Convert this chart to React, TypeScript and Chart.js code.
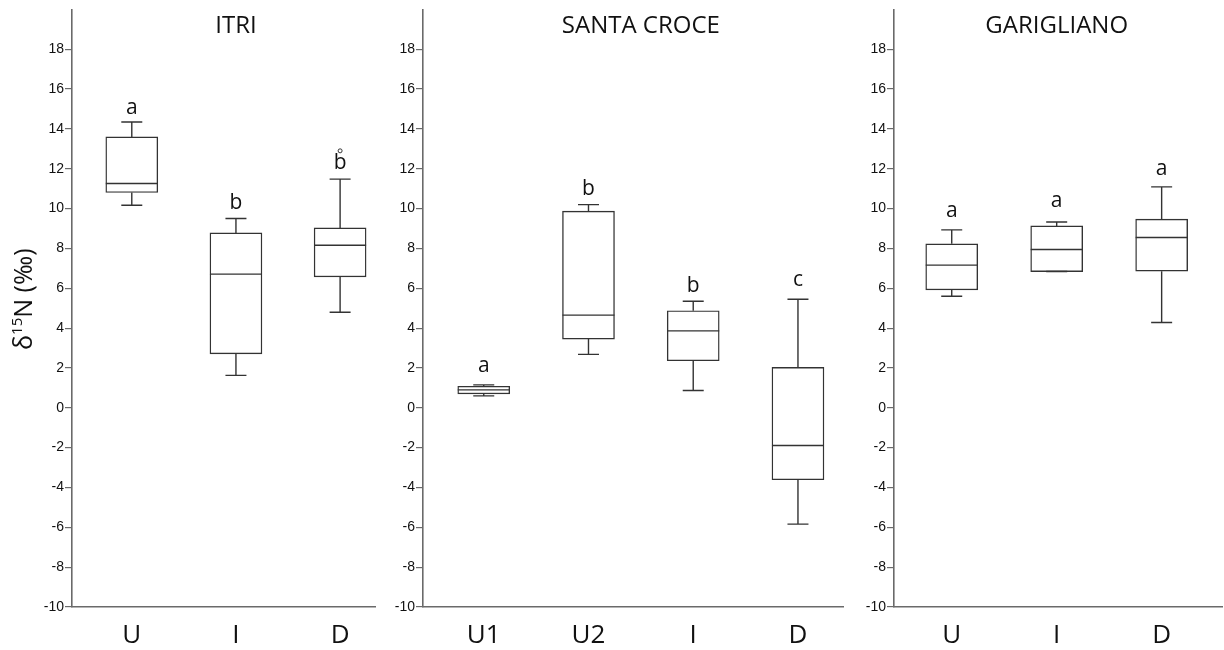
import { useEffect, useRef } from "react";
import { Chart, registerables } from "chart.js";

Chart.register(...registerables);

// ---- data (δ15N, ‰) ----
const yTickValues = [-10, -8, -6, -4, -2, 0, 2, 4, 6, 8, 10, 12, 14, 16, 18];

const itriGroups = ["U", "I", "D"];
const itriMin = [10.17, 1.63, 4.8];
const itriQ1 = [10.81, 2.71, 6.57];
const itriMedian = [11.26, 6.71, 8.16];
const itriQ3 = [13.6, 8.78, 9.03];
const itriMax = [14.35, 9.5, 11.48];
const itriLetters = ["a", "b", "b"];
const itriLetterY = [14.77, 10.0, 12.01];
const itriOutlierGroup = [3];
const itriOutlierValue = [12.9];

const santaGroups = ["U1", "U2", "I", "D"];
const santaMin = [0.6, 2.68, 0.87, -5.84];
const santaQ1 = [0.7, 3.45, 2.36, -3.61];
const santaMedian = [0.9, 4.65, 3.86, -1.89];
const santaQ3 = [1.08, 9.87, 4.87, 2.03];
const santaMax = [1.15, 10.2, 5.35, 5.45];
const santaLetters = ["a", "b", "b", "c"];
const santaLetterY = [1.78, 10.67, 5.79, 6.12];

const garigGroups = ["U", "I", "D"];
const garigMin = [5.6, 6.84, 4.28];
const garigQ1 = [5.92, 6.84, 6.86];
const garigMedian = [7.16, 7.95, 8.55];
const garigQ3 = [8.23, 9.13, 9.47];
const garigMax = [8.93, 9.33, 11.09];
const garigLetters = ["a", "a", "a"];
const garigLetterY = [9.58, 10.06, 11.68];

// ---- styling ----
const BOX_WIDTH = 52;
const CAP_WIDTH = 21;
const LINE_COLOR = "#333333";
const AXIS_COLOR = "#6a6a6a";
const TEXT_COLOR = "#111111";
const HUMANIST = "'Open Sans', 'Noto Sans', sans-serif";
const TICK_FONT = "'Liberation Sans', Arial, sans-serif";

type PanelData = {
  title: string;
  groups: string[];
  min: number[];
  q1: number[];
  median: number[];
  q3: number[];
  max: number[];
  letters: string[];
  letterY: number[];
  outlierGroup: number[];
  outlierValue: number[];
  showYTitle: boolean;
  // layout
  left: number;
  width: number;
  yAxisWidth: number;
  padRight: number;
  xMin: number;
  xMax: number;
};

const panels: PanelData[] = [
  {
    title: "ITRI",
    groups: itriGroups,
    min: itriMin,
    q1: itriQ1,
    median: itriMedian,
    q3: itriQ3,
    max: itriMax,
    letters: itriLetters,
    letterY: itriLetterY,
    outlierGroup: itriOutlierGroup,
    outlierValue: itriOutlierValue,
    showYTitle: true,
    left: 0,
    width: 380,
    yAxisWidth: 72,
    padRight: 4,
    xMin: 0.426,
    xMax: 3.335,
  },
  {
    title: "SANTA CROCE",
    groups: santaGroups,
    min: santaMin,
    q1: santaQ1,
    median: santaMedian,
    q3: santaQ3,
    max: santaMax,
    letters: santaLetters,
    letterY: santaLetterY,
    outlierGroup: [],
    outlierValue: [],
    showYTitle: false,
    left: 380,
    width: 470,
    yAxisWidth: 43,
    padRight: 7,
    xMin: 0.42,
    xMax: 4.43,
  },
  {
    title: "GARIGLIANO",
    groups: garigGroups,
    min: garigMin,
    q1: garigQ1,
    median: garigMedian,
    q3: garigQ3,
    max: garigMax,
    letters: garigLetters,
    letterY: garigLetterY,
    outlierGroup: [],
    outlierValue: [],
    showYTitle: false,
    left: 850,
    width: 374,
    yAxisWidth: 44,
    padRight: 2,
    xMin: 0.45,
    xMax: 3.575,
  },
];

function makeBoxPlugin(p: PanelData) {
  return {
    id: "boxExtras",
    afterDatasetsDraw(chart: any) {
      const { ctx, scales, chartArea } = chart;
      const xs = scales.x;
      const ys = scales.y;
      ctx.save();
      ctx.strokeStyle = LINE_COLOR;
      ctx.lineWidth = 1.4;
      p.groups.forEach((_, i) => {
        const cx = xs.getPixelForValue(i + 1);
        const yMed = ys.getPixelForValue(p.median[i]);
        const yQ1 = ys.getPixelForValue(p.q1[i]);
        const yQ3 = ys.getPixelForValue(p.q3[i]);
        const yMin = ys.getPixelForValue(p.min[i]);
        const yMax = ys.getPixelForValue(p.max[i]);
        ctx.beginPath();
        // median
        ctx.moveTo(cx - BOX_WIDTH / 2, yMed);
        ctx.lineTo(cx + BOX_WIDTH / 2, yMed);
        // upper whisker + cap
        ctx.moveTo(cx, yQ3);
        ctx.lineTo(cx, yMax);
        ctx.moveTo(cx - CAP_WIDTH / 2, yMax);
        ctx.lineTo(cx + CAP_WIDTH / 2, yMax);
        // lower whisker + cap
        ctx.moveTo(cx, yQ1);
        ctx.lineTo(cx, yMin);
        ctx.moveTo(cx - CAP_WIDTH / 2, yMin);
        ctx.lineTo(cx + CAP_WIDTH / 2, yMin);
        ctx.stroke();
      });

      // significance letters
      ctx.fillStyle = TEXT_COLOR;
      ctx.textAlign = "center";
      ctx.textBaseline = "alphabetic";
      ctx.font = `21px ${HUMANIST}`;
      p.letters.forEach((letter, i) => {
        ctx.fillText(letter, xs.getPixelForValue(i + 1), ys.getPixelForValue(p.letterY[i]));
      });

      // panel title, centred over the groups
      ctx.font = `24px ${HUMANIST}`;
      ctx.fillText(p.title, xs.getPixelForValue((p.groups.length + 1) / 2), chartArea.top + 24);
      ctx.restore();
    },
    afterDraw(chart: any) {
      if (!p.showYTitle) return;
      const { ctx, chartArea } = chart;
      const cy = (chartArea.top + chartArea.bottom) / 2 - 9;
      ctx.save();
      ctx.translate(32, cy);
      ctx.rotate(-Math.PI / 2);
      ctx.fillStyle = TEXT_COLOR;
      ctx.textBaseline = "alphabetic";
      ctx.textAlign = "left";
      const big = `25px ${HUMANIST}`;
      const small = `15px ${HUMANIST}`;
      const parts = [
        { t: "δ", f: big, dy: 0 },
        { t: "15", f: small, dy: -10 },
        { t: "N (‰)", f: big, dy: 0 },
      ];
      let total = 0;
      const widths = parts.map((pt) => {
        ctx.font = pt.f;
        const w = ctx.measureText(pt.t).width;
        total += w;
        return w;
      });
      let x = -total / 2;
      parts.forEach((pt, i) => {
        ctx.font = pt.f;
        ctx.fillText(pt.t, x, pt.dy);
        x += widths[i];
      });
      ctx.restore();
    },
  };
}

function Panel({ p }: { p: PanelData }) {
  const ref = useRef<HTMLCanvasElement>(null);

  useEffect(() => {
    const canvas = ref.current;
    if (!canvas) return;
    const chart = new Chart(canvas, {
      type: "bar",
      data: {
        datasets: [
          {
            type: "bar",
            data: p.groups.map((_, i) => ({ x: i + 1, y: [p.q1[i], p.q3[i]] })) as any,
            backgroundColor: "#ffffff",
            borderColor: LINE_COLOR,
            borderWidth: 1.4,
            borderSkipped: false,
            barThickness: BOX_WIDTH,
          } as any,
          {
            type: "scatter",
            data: p.outlierGroup.map((g, i) => ({ x: g, y: p.outlierValue[i] })),
            pointRadius: 2,
            pointBackgroundColor: "#ffffff",
            pointBorderColor: LINE_COLOR,
            pointBorderWidth: 1,
          } as any,
        ],
      },
      options: {
        responsive: false,
        animation: false,
        layout: { padding: { top: 9, right: p.padRight, left: 0, bottom: 0 } },
        plugins: {
          legend: { display: false },
          tooltip: { enabled: false },
        },
        scales: {
          x: {
            type: "linear",
            min: p.xMin,
            max: p.xMax,
            offset: false,
            afterBuildTicks: (s: any) => {
              s.ticks = p.groups.map((_, i) => ({ value: i + 1 }));
            },
            afterFit: (s: any) => {
              s.height = 43;
            },
            ticks: {
              callback: (v: any) => p.groups[Number(v) - 1] ?? "",
              font: { family: HUMANIST, size: 26 },
              color: TEXT_COLOR,
              padding: 5,
              autoSkip: false,
              maxRotation: 0,
            },
            grid: { display: false },
            border: { color: AXIS_COLOR, width: 1.6 },
          },
          y: {
            type: "linear",
            min: -10,
            max: 20,
            afterBuildTicks: (s: any) => {
              s.ticks = yTickValues.map((v) => ({ value: v }));
            },
            afterFit: (s: any) => {
              s.width = p.yAxisWidth;
            },
            ticks: {
              font: { family: TICK_FONT, size: 14 },
              color: "#111111",
              padding: 1,
            },
            grid: {
              drawOnChartArea: false,
              drawTicks: true,
              tickLength: 7,
              color: AXIS_COLOR,
              lineWidth: 1.2,
            },
            border: { color: AXIS_COLOR, width: 1.6 },
          },
        },
      } as any,
      plugins: [makeBoxPlugin(p)],
    });
    return () => chart.destroy();
  }, [p]);

  return (
    <canvas
      ref={ref}
      width={p.width}
      height={650}
      style={{ position: "absolute", left: p.left, top: 0, width: p.width, height: 650, display: "block" }}
    />
  );
}

export default function App() {
  return (
    <div
      style={{
        position: "fixed",
        left: 0,
        top: 0,
        width: 1224,
        height: 650,
        background: "#ffffff",
        overflow: "hidden",
      }}
    >
      {panels.map((p) => (
        <Panel key={p.title} p={p} />
      ))}
    </div>
  );
}
